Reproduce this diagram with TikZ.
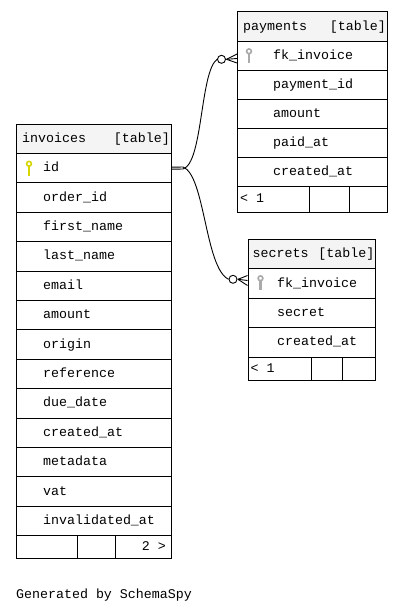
\documentclass[tikz,border=0pt]{standalone}
\usepackage{fontspec}
\setmonofont{Liberation Mono}
\definecolor{hdr}{RGB}{244,244,244}
\definecolor{keyyellow}{RGB}{214,214,0}
\definecolor{keygray}{RGB}{170,170,170}
\newcommand{\dbkey}[3]{%
  \draw[#3, line width=1.6pt] (#1,#2-4.2) circle (2.4);
  \draw[#3, line width=2.2pt] (#1,#2-1.8) -- (#1,#2+7.5);
}
\begin{document}
\begin{tikzpicture}[x=1pt,y=-1pt,
  cell/.style={draw, line width=1pt, rectangle, inner sep=0pt, anchor=north west},
  hcell/.style={cell, fill=hdr},
  lbl/.style={inner sep=0pt, font=\ttfamily\fontsize{13.3}{14}\selectfont, text height=9.5pt, text depth=2.5pt},
  edge/.style={line width=0.9pt, black},
  odot/.style={draw, circle, line width=0.9pt, fill=white, inner sep=0pt, minimum size=8pt}
]
\useasboundingbox[fill=white] (0,0) rectangle (403,613);

% ---------- invoices ----------
\node[hcell, minimum width=155pt, minimum height=29pt] (invh) at (16,124) {};
\node[lbl, anchor=west] (invhn) at ([xshift=6pt]invh.west) {invoices};
\node[lbl, anchor=east] (invht) at ([xshift=-2pt]invh.east) {[table]};
\foreach \nm [count=\i from 0] in {id, order\_id, first\_name, last\_name, email, amount, origin, reference, due\_date, created\_at, metadata, vat, invalidated\_at} {
  \node[cell, minimum width=155pt, minimum height=29.4pt] (inv-\i) at (16,{153+\i*29.4}) {};
  \node[lbl, anchor=west] (invt-\i) at ([xshift=27pt]inv-\i.west) {\nm};
}
\node[cell, minimum width=60.7pt, minimum height=23pt] (invf1) at (16,535.2) {};
\node[cell, minimum width=38.6pt, minimum height=23pt] (invf2) at (76.7,535.2) {};
\node[cell, minimum width=55.7pt, minimum height=23pt] (invf3) at (115.3,535.2) {};
\node[lbl, anchor=east] (invft) at ([xshift=-6pt]invf3.east) {2 >};
\dbkey{29}{168}{keyyellow}

% ---------- payments ----------
\node[hcell, minimum width=150pt, minimum height=30pt] (payh) at (237,11) {};
\node[lbl, anchor=west] (payhn) at ([xshift=6pt]payh.west) {payments};
\node[lbl, anchor=east] (payht) at ([xshift=-2pt]payh.east) {[table]};
\foreach \nm [count=\i from 0] in {fk\_invoice, payment\_id, amount, paid\_at, created\_at} {
  \node[cell, minimum width=150pt, minimum height=29pt] (pay-\i) at (237,{41+\i*29}) {};
  \node[lbl, anchor=west] (payt-\i) at ([xshift=36pt]pay-\i.west) {\nm};
}
\node[cell, minimum width=72.3pt, minimum height=25.5pt] (payf1) at (237,186) {};
\node[cell, minimum width=40pt, minimum height=25.5pt] (payf2) at (309.3,186) {};
\node[cell, minimum width=37.7pt, minimum height=25.5pt] (payf3) at (349.3,186) {};
\node[lbl, anchor=west] (payft) at ([xshift=3pt]payf1.west) {< 1};
\dbkey{249}{55.5}{keygray}

% ---------- secrets ----------
\node[hcell, minimum width=127pt, minimum height=29.3pt] (sech) at (247.5,239) {};
\node[lbl, anchor=west] (sechn) at ([xshift=5pt]sech.west) {secrets};
\node[lbl, anchor=east] (secht) at ([xshift=-1pt]sech.east) {[table]};
\foreach \nm [count=\i from 0] in {fk\_invoice, secret, created\_at} {
  \node[cell, minimum width=127pt, minimum height=29.45pt] (sec-\i) at (247.5,{268.3+\i*29.45}) {};
  \node[lbl, anchor=west] (sect-\i) at ([xshift=29.5pt]sec-\i.west) {\nm};
}
\node[cell, minimum width=63.2pt, minimum height=23.3pt] (secf1) at (247.5,356.7) {};
\node[cell, minimum width=31.6pt, minimum height=23.3pt] (secf2) at (310.7,356.7) {};
\node[cell, minimum width=32.2pt, minimum height=23.3pt] (secf3) at (342.3,356.7) {};
\node[lbl, anchor=west] (secft) at ([xshift=3pt]secf1.west) {< 1};
\dbkey{260.5}{282.5}{keygray}

% ---------- connectors ----------
\coordinate (split) at (183,168);
\draw[edge] ([yshift=-1pt]inv-0.east) -- ([yshift=-1pt]split);
\draw[edge] ([yshift=1pt]inv-0.east) -- ([yshift=1pt]split);
\node[odot] (pc) at (221.5,59.3) {};
\node[odot] (sc) at (233,279.3) {};
\draw[edge] ([yshift=-1pt]split) .. controls (203,163) and (200,72) .. (pc.west);
\draw[edge] ([yshift=1pt]split) .. controls (205,175) and (205,268) .. (sc.west);
% crow's feet
\coordinate (pa) at ([xshift=0.5pt]pc.east);
\draw[edge] (pa) -- (pay-0.west |- 0,54);
\draw[edge] (pa) -- (pay-0.west |- 0,58.5);
\draw[edge] (pa) -- (pay-0.west |- 0,63);
\coordinate (sa) at ([xshift=0.5pt]sc.east);
\draw[edge] (sa) -- (sec-0.west |- 0,275.5);
\draw[edge] (sa) -- (sec-0.west |- 0,280.5);
\draw[edge] (sa) -- (sec-0.west |- 0,285.5);

% ---------- footer text ----------
\node[lbl, anchor=west] (gen) at (16,595) {Generated by SchemaSpy};
\end{tikzpicture}
\end{document}
